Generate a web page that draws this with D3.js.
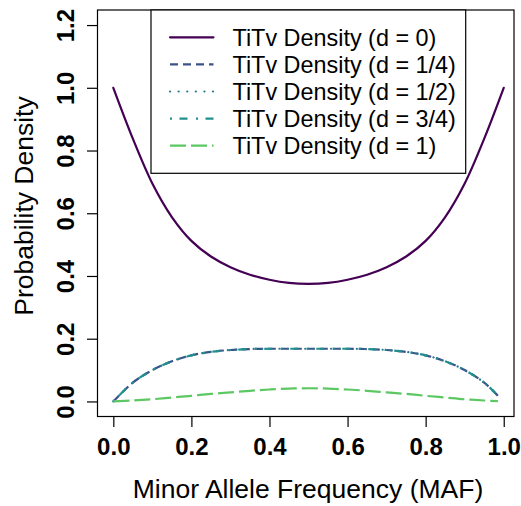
<!DOCTYPE html>
<html><head><meta charset="utf-8">
<script src="https://cdn.jsdelivr.net/npm/d3@7/dist/d3.min.js"></script>
<style>body{margin:0;background:#fff}svg{display:block}text{font-family:"Liberation Sans",Arial,sans-serif}</style>
</head><body>
<script>
// ---- data ----
const xFull = [0,0.05,0.1,0.15,0.2,0.25,0.3,0.35,0.4,0.45,0.5,0.55,0.6,0.65,0.7,0.75,0.8,0.85,0.9,0.95,1.0];
const xPart = [0,0.05,0.1,0.15,0.2,0.25,0.3,0.35,0.4,0.45,0.5,0.55,0.6,0.65,0.7,0.75,0.8,0.85,0.9,0.95,0.985];
const d0   = [1.0,0.838,0.695,0.588,0.512,0.462,0.428,0.404,0.388,0.378,0.375,0.378,0.388,0.404,0.428,0.462,0.512,0.588,0.695,0.838,1.0];
const d14  = [0,0.06,0.10,0.128,0.147,0.158,0.164,0.167,0.168,0.168,0.168,0.168,0.168,0.167,0.164,0.158,0.147,0.128,0.10,0.06,0.018];
const d12  = [0,0.06,0.10,0.128,0.147,0.158,0.164,0.167,0.168,0.168,0.168,0.168,0.168,0.167,0.164,0.158,0.147,0.128,0.10,0.06,0.018];
const d34  = [0,0.06,0.10,0.128,0.147,0.158,0.164,0.167,0.168,0.168,0.168,0.168,0.168,0.167,0.164,0.158,0.147,0.128,0.10,0.06,0.018];
const d1   = [0,0.003,0.007,0.0125,0.018,0.024,0.029,0.034,0.038,0.041,0.042,0.041,0.038,0.034,0.029,0.024,0.018,0.0125,0.007,0.003,0.001];
const labels = ["TiTv Density (d = 0)","TiTv Density (d = 1/4)","TiTv Density (d = 1/2)","TiTv Density (d = 3/4)","TiTv Density (d = 1)"];
const xTicks = [0,0.2,0.4,0.6,0.8,1.0];
const yTicks = [0,0.2,0.4,0.6,0.8,1.0,1.2];

const series = [
  {x:xFull, y:d0,  color:"#440154", dash:null, cap:"round"},
  {x:xPart, y:d14, color:"#3B528B", dash:"8,5", cap:"butt"},
  {x:xPart, y:d12, color:"#2A788E", dash:"0.1,8.5", cap:"round"},
  {x:xPart, y:d34, color:"#21908C", dash:"2,7.5,8,8.5", cap:"butt"},
  {x:xPart, y:d1,  color:"#5DC863", dash:"16,5", cap:"butt"}
];

const W=521,H=506;
const L=97.5,R=514,T=10,B=416.5;
const x = d3.scaleLinear().domain([-0.0405,1.0263]).range([L,R]);
const y = d3.scaleLinear().domain([-0.048,1.248]).range([B,T]);

const svg = d3.select("body").append("svg").attr("width",W).attr("height",H);

// curves
const line = d3.line().x(d=>x(d[0])).y(d=>y(d[1])).curve(d3.curveCatmullRom.alpha(0.5));
series.forEach(s=>{
  svg.append("path").datum(s.x.map((v,i)=>[v,s.y[i]]))
    .attr("d",line).attr("fill","none").attr("stroke",s.color)
    .attr("stroke-width",2.2).attr("stroke-linecap",s.cap)
    .attr("stroke-dasharray",s.dash);
});

// box
svg.append("rect").attr("x",L).attr("y",T).attr("width",R-L).attr("height",B-T)
  .attr("fill","none").attr("stroke","#000").attr("stroke-width",1.2);

// x axis
const xa = svg.append("g").attr("transform",`translate(0,${B})`)
  .call(d3.axisBottom(x).tickValues(xTicks).tickFormat(d3.format(".1f")).tickSize(10.5).tickPadding(6));
xa.select(".domain").remove();
xa.selectAll("line").attr("stroke","#000").attr("stroke-width",1.2);
xa.selectAll("text").attr("font-size",24).attr("font-weight","bold").attr("fill","#000")
  .attr("dy",null).attr("y",38);

// y axis
const ya = svg.append("g").attr("transform",`translate(${L},0)`)
  .call(d3.axisLeft(y).tickValues(yTicks).tickFormat(d3.format(".1f")).tickSize(10.5));
ya.select(".domain").remove();
ya.selectAll("line").attr("stroke","#000").attr("stroke-width",1.2);
ya.selectAll("text").attr("font-size",24).attr("font-weight","bold").attr("fill","#000")
  .attr("x",null).attr("dy",null).attr("text-anchor","middle")
  .attr("transform","translate(-23.5,0) rotate(-90)");

// axis titles
svg.append("text").attr("x",308).attr("y",498).attr("text-anchor","middle")
  .attr("font-size",26.5).attr("fill","#000").text("Minor Allele Frequency (MAF)");
svg.append("text").attr("transform",`translate(33,206) rotate(-90)`).attr("text-anchor","middle")
  .attr("font-size",26.5).attr("fill","#000").text("Probability Density");

// legend
const lg = svg.append("g");
lg.append("rect").attr("x",151).attr("y",T).attr("width",465.7-151).attr("height",173.3-T)
  .attr("fill","#fff").attr("stroke","#000").attr("stroke-width",1.2);
series.forEach((s,i)=>{
  const yy = 37.3 + i*27.1;
  lg.append("line").attr("x1",170).attr("x2",213.5).attr("y1",yy).attr("y2",yy)
    .attr("stroke",s.color).attr("stroke-width",2.2).attr("stroke-linecap",s.cap)
    .attr("stroke-dasharray",s.dash);
  lg.append("text").attr("x",232.5).attr("y",yy+8.2).attr("font-size",23.4).attr("fill","#000").text(labels[i]);
});
</script>
</body></html>
